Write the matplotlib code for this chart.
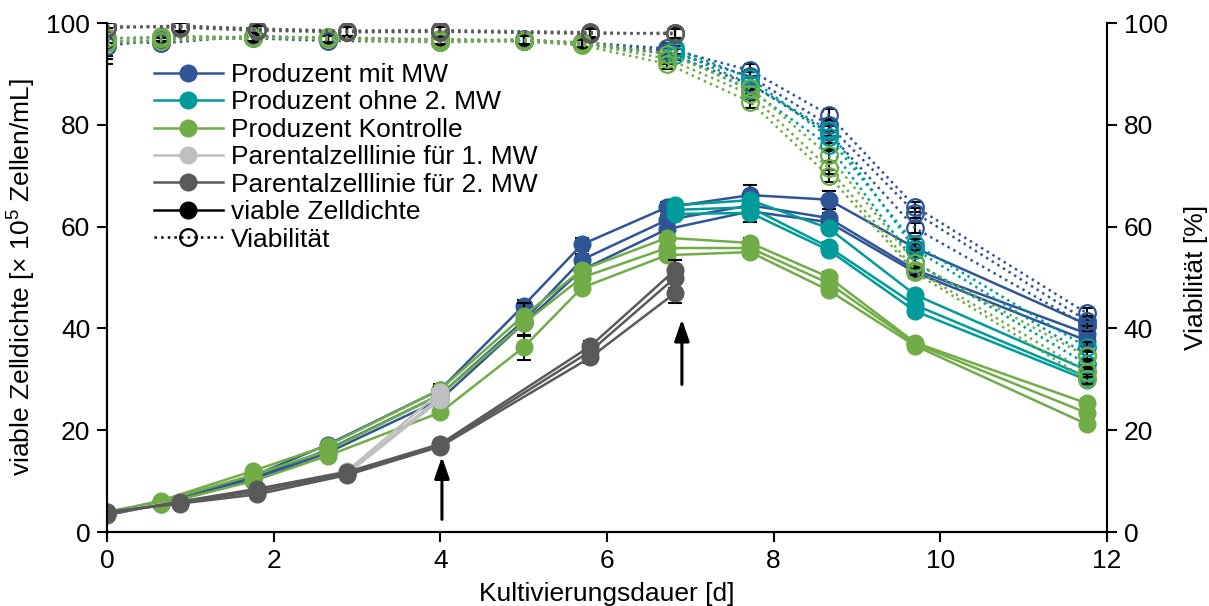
import matplotlib
matplotlib.use('Agg')
import matplotlib.pyplot as plt
from matplotlib.lines import Line2D

plt.rcParams['font.family'] = ['Liberation Sans', 'DejaVu Sans']
plt.rcParams['mathtext.fontset'] = 'custom'
plt.rcParams['mathtext.rm'] = 'Liberation Sans'
plt.rcParams['mathtext.it'] = 'Liberation Sans:italic'

# Probenahmezeitpunkte [d]
t_prod = [0, 0.65, 1.75, 2.65, 4.0, 5.0, 5.7, 6.72, 7.72, 8.66, 9.7, 11.76]
t_ohne = [6.82, 7.72, 8.66, 9.7, 11.76]
t_par2 = [0, 0.88, 1.8, 2.88, 4.0, 5.8, 6.82]
t_par1 = [0, 0.88, 1.8, 2.88, 4.0]

# viable Zelldichte [x 10^5 Zellen/mL], je drei Replikate
vcd_mw = [
    [3.5, 5.8, 11.0, 17.2, 28.0, 44.5, 56.5, 63.8, 66.2, 65.3, 55.8, 40.8],
    [3.8, 6.0, 10.5, 16.2, 27.0, 41.5, 53.5, 61.3, 64.2, 61.7, 51.5, 39.0],
    [3.3, 5.5, 10.2, 15.6, 26.0, 41.0, 51.5, 59.5, 63.0, 60.9, 51.0, 37.6],
]
vcd_ohne = [
    [64.2, 65.2, 59.7, 46.6, 31.8],
    [63.3, 63.8, 56.0, 44.6, 30.5],
    [62.5, 62.7, 55.4, 43.4, 29.9],
]
vcd_ktrl = [
    [3.8, 6.2, 12.0, 17.0, 28.0, 42.5, 51.5, 57.8, 56.8, 50.1, 37.2, 25.3],
    [4.0, 6.0, 11.2, 16.0, 27.0, 41.0, 50.0, 55.8, 55.8, 48.9, 37.0, 23.4],
    [3.6, 5.5, 10.0, 15.0, 23.5, 36.3, 48.0, 54.4, 55.0, 47.5, 36.6, 21.2],
]
vcd_par1 = [
    [3.8, 6.0, 8.3, 12.0, 27.5],
    [3.6, 5.8, 8.0, 11.6, 26.5],
    [3.9, 5.9, 7.8, 11.4, 26.0],
]
vcd_par2 = [
    [3.5, 6.0, 8.5, 11.8, 17.3, 36.5, 51.5],
    [3.8, 5.8, 8.0, 11.5, 17.0, 35.5, 50.0],
    [4.0, 5.6, 7.4, 11.2, 16.8, 34.3, 47.0],
]

# Viabilität [%]
via_mw = [
    [96.5, 96.0, 97.5, 97.0, 96.8, 96.5, 96.2, 95.0, 90.7, 82.0, 63.9, 43.0],
    [95.5, 96.8, 97.0, 96.5, 96.3, 96.8, 96.0, 94.5, 89.5, 80.0, 62.7, 41.5],
    [97.0, 97.2, 97.2, 97.2, 96.6, 96.4, 95.8, 94.0, 88.0, 78.5, 59.7, 40.5],
]
via_ohne = [
    [95.0, 89.2, 77.6, 56.5, 36.3],
    [94.5, 88.0, 79.0, 55.5, 34.8],
    [93.8, 86.8, 76.0, 53.0, 33.0],
]
via_ktrl = [
    [96.0, 97.5, 97.2, 97.0, 96.8, 96.6, 96.2, 94.0, 87.2, 74.0, 52.8, 34.5],
    [97.0, 97.0, 97.0, 97.3, 96.5, 96.7, 96.0, 93.0, 86.0, 71.5, 51.5, 31.5],
    [96.2, 96.5, 97.3, 96.8, 96.2, 96.5, 95.6, 92.0, 84.5, 70.0, 51.0, 30.0],
]
via_par1 = [
    [99.5, 99.2, 98.8, 98.2, 98.3],
    [99.3, 99.4, 98.6, 98.4, 98.5],
    [99.4, 99.3, 98.9, 98.3, 98.2],
]
via_par2 = [
    [99.2, 99.3, 98.7, 98.3, 98.4, 98.0, 98.0],
    [99.0, 99.5, 98.9, 98.5, 98.6, 98.2, 97.8],
    [99.3, 99.1, 98.5, 98.2, 98.3, 97.9, 98.1],
]

# Standardabweichungen (Zählung)
err_vcd_mw = [0.3, 0.4, 0.5, 0.6, 1.0, 1.0, 1.2, 1.0, 2.0, 1.8, 1.0, 1.0]
err_vcd_ohne = [1.0, 1.0, 1.0, 1.0, 1.0]
err_vcd_ktrl = [0.3, 0.4, 0.5, 0.6, 0.8, 2.5, 1.0, 1.0, 1.0, 1.0, 0.8, 0.8]
err_vcd_par1 = [0.3, 0.4, 0.5, 0.6, 1.0]
err_vcd_par2 = [0.3, 0.4, 0.5, 0.6, 0.8, 1.0, 2.0]
err_via_mw = [3.5, 1.0, 1.0, 1.0, 1.0, 1.0, 1.0, 1.0, 1.2, 1.2, 1.0, 1.0]
err_via_ohne = [1.0, 1.2, 1.2, 1.0, 1.0]
err_via_ktrl = [1.0, 1.0, 1.0, 1.0, 1.0, 1.0, 1.0, 1.0, 1.2, 1.2, 1.0, 1.0]
err_via_par1 = [1.0, 1.0, 1.0, 1.0, 1.0]
err_via_par2 = [1.0, 1.0, 1.0, 1.0, 1.0, 1.0, 1.0]

labels = ['Produzent mit MW', 'Produzent ohne 2. MW', 'Produzent Kontrolle',
          'Parentalzelllinie für 1. MW', 'Parentalzelllinie für 2. MW']
colors = ['#2F5597', '#009B9B', '#70AD47', '#BFBFBF', '#595959']

groups = [
    (t_prod, vcd_mw, via_mw, err_vcd_mw, err_via_mw),
    (t_ohne, vcd_ohne, via_ohne, err_vcd_ohne, err_via_ohne),
    (t_prod, vcd_ktrl, via_ktrl, err_vcd_ktrl, err_via_ktrl),
    (t_par1, vcd_par1, via_par1, err_vcd_par1, err_via_par1),
    (t_par2, vcd_par2, via_par2, err_vcd_par2, err_via_par2),
]

# Zeitpunkte der Mediumwechsel (Pfeile): x, y-Start, y-Ende
arrows = [(4.02, 2.5, 14.8), (6.9, 29.0, 41.8)]

FS = 19
MS = 12

fig = plt.figure(figsize=(12.09, 6.06), dpi=100)
ax = fig.add_axes([0.0885, 0.122, 0.827, 0.84])
ax2 = ax.twinx()

for k, (t, vcd, via, e_vcd, e_via) in enumerate(groups):
    c = colors[k]
    for r in range(3):
        ax.errorbar(t, vcd[r], yerr=e_vcd, fmt='none', ecolor='black',
                    elinewidth=1.5, capsize=5, capthick=1.5, zorder=2 + k * 0.1)
        ax.plot(t, vcd[r], '-', color=c, lw=1.8, marker='o', ms=MS,
                mec=c, mfc=c, zorder=2.05 + k * 0.1)
        ax2.errorbar(t, via[r], yerr=e_via, fmt='none', ecolor='black',
                     elinewidth=1.5, capsize=4, capthick=1.5, zorder=2)
        ax2.plot(t, via[r], ':', color=c, lw=1.8, marker='o', ms=MS,
                 mec=c, mfc='none', mew=1.6, zorder=2.05 + k * 0.1)

for x, y0, y1 in arrows:
    ax.annotate('', xy=(x, y1), xytext=(x, y0),
                arrowprops=dict(arrowstyle='-|>,head_width=0.45,head_length=1.3',
                                color='black', lw=2.2, shrinkA=0, shrinkB=0),
                zorder=5)

for a in (ax, ax2):
    a.set_ylim(0, 100)
    a.set_yticks(range(0, 101, 20))
    a.tick_params(labelsize=FS, length=7, width=1.5, direction='out', pad=5)
    for s in a.spines.values():
        s.set_linewidth(1.5)
    a.spines['top'].set_visible(False)
ax.set_xlim(0, 12)
ax.set_xticks(range(0, 13, 2))
ax.spines['right'].set_visible(False)

ax.set_xlabel('Kultivierungsdauer [d]', fontsize=FS, labelpad=7)
ax.set_ylabel(r'viable Zelldichte [$\times$ 10$^5$ Zellen/mL]', fontsize=FS, labelpad=6)
ax2.set_ylabel('Viabilität [%]', fontsize=FS, labelpad=12)

handles = [Line2D([], [], color=c, lw=1.8, marker='o', ms=MS, mfc=c, mec=c)
           for c in colors]
handles.append(Line2D([], [], color='black', lw=1.8, marker='o', ms=MS,
                      mfc='black', mec='black'))
handles.append(Line2D([], [], color='black', lw=1.8, ls=':', marker='o', ms=MS,
                      mfc='none', mec='black', mew=1.6))
fig.legend(handles, labels + ['viable Zelldichte', 'Viabilität'],
           loc='upper left', bbox_to_anchor=(154 / 1209, 1 - 63 / 606),
           frameon=False, fontsize=FS, handlelength=2.6, handletextpad=0.3,
           labelspacing=0.13, borderpad=0, borderaxespad=0)

fig.savefig('out.png', dpi=100, facecolor='white')
